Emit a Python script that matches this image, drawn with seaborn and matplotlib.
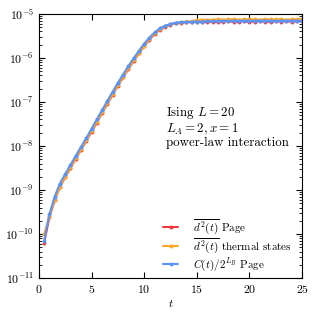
import numpy as np
import pandas as pd
import seaborn as sns
from matplotlib import pyplot as plt

t = np.arange(1, 51) * 0.5

d2_page = [6.3e-11, 2.4e-10, 5.8e-10, 1.18e-9, 1.95e-9, 3.15e-9, 5.1e-9, 8.2e-9, 1.3e-8, 2.1e-8,
           3.4e-8, 5.6e-8, 9.0e-8, 1.45e-7, 2.35e-7, 3.6e-7, 5.6e-7, 8.5e-7, 1.27e-6, 1.85e-6,
           2.6e-6, 3.5e-6, 4.4e-6, 5.1e-6, 5.7e-6, 6.1e-6, 6.3e-6, 6.4e-6, 6.5e-6, 6.6e-6,
           6.6e-6, 6.5e-6, 6.7e-6, 6.6e-6, 6.7e-6, 6.8e-6, 6.6e-6, 6.7e-6, 6.8e-6, 6.6e-6,
           6.7e-6, 6.8e-6, 6.7e-6, 6.6e-6, 6.8e-6, 6.7e-6, 6.8e-6, 6.7e-6, 6.8e-6, 6.8e-6]
d2_thermal = [1.0e-10, 2.5e-10, 6.0e-10, 1.2e-9, 2.0e-9, 3.25e-9, 5.3e-9, 8.5e-9, 1.35e-8, 2.2e-8,
              3.55e-8, 5.8e-8, 9.3e-8, 1.5e-7, 2.4e-7, 3.75e-7, 5.8e-7, 8.8e-7, 1.3e-6, 1.9e-6,
              2.7e-6, 3.6e-6, 4.5e-6, 5.2e-6, 5.8e-6, 6.2e-6, 6.5e-6, 6.7e-6, 6.8e-6, 7.2e-6,
              7.4e-6, 7.3e-6, 7.4e-6, 7.5e-6, 7.4e-6, 7.5e-6, 7.6e-6, 7.4e-6, 7.5e-6, 7.6e-6,
              7.5e-6, 7.4e-6, 7.6e-6, 7.5e-6, 7.5e-6, 7.6e-6, 7.4e-6, 7.5e-6, 7.6e-6, 7.7e-6]
c_page = [6.9e-11, 2.8e-10, 7.1e-10, 1.4e-9, 2.3e-9, 3.7e-9, 6.0e-9, 9.5e-9, 1.5e-8, 2.45e-8,
          4.0e-8, 6.5e-8, 1.05e-7, 1.7e-7, 2.7e-7, 4.2e-7, 6.5e-7, 9.8e-7, 1.45e-6, 2.1e-6,
          2.9e-6, 3.8e-6, 4.7e-6, 5.4e-6, 5.9e-6, 6.3e-6, 6.5e-6, 6.6e-6, 6.6e-6, 6.7e-6,
          6.7e-6, 6.8e-6, 6.8e-6, 6.9e-6, 6.9e-6, 6.9e-6, 7.0e-6, 6.9e-6, 7.0e-6, 7.0e-6,
          6.9e-6, 7.0e-6, 7.0e-6, 7.0e-6, 6.9e-6, 7.0e-6, 7.0e-6, 7.0e-6, 7.0e-6, 7.0e-6]

labels = [r'$\overline{d^2(t)}$ Page', r'$\overline{d^2(t)}$ thermal states', r'$C(t)/2^{L_B}$ Page']
colors = ['#f23a3a', '#ffa726', '#5b93f5']

df = pd.DataFrame({
    't': np.concatenate([t, t, t]),
    'val': np.concatenate([d2_page, d2_thermal, c_page]),
    'series': np.repeat(labels, len(t)),
})

sns.set_style('ticks')
plt.rcParams['font.family'] = 'serif'
plt.rcParams['font.serif'] = ['cmr10', 'DejaVu Serif']
plt.rcParams['mathtext.fontset'] = 'cm'
plt.rcParams['axes.formatter.use_mathtext'] = True
plt.rcParams['font.size'] = 8.5
plt.rcParams['text.color'] = 'black'
plt.rcParams['axes.labelcolor'] = 'black'
plt.rcParams['xtick.color'] = 'black'
plt.rcParams['ytick.color'] = 'black'
plt.rcParams['axes.edgecolor'] = 'black'

fig = plt.figure(figsize=(3.16, 3.16), dpi=100)
ax = fig.add_axes([0.123, 0.12, 0.833, 0.836])
sns.lineplot(data=df, x='t', y='val', hue='series', palette=colors, marker='o',
             markersize=2.8, markeredgewidth=0, linewidth=1.5, ax=ax)
ax.set_yscale('log')
ax.set_xlim(0, 25)
ax.set_ylim(1e-11, 1e-5)
ax.set_xticks([0, 5, 10, 15, 20, 25])
ax.set_xlabel(r'$t$', labelpad=2)
ax.set_ylabel('')
ax.tick_params(which='both', direction='in', top=True, right=True, labelsize=8.5)
ax.tick_params(which='major', length=4)
ax.tick_params(which='minor', length=2)
for s in ax.spines.values():
    s.set_linewidth(0.8)

ax.text(0.483, 0.655, 'Ising $L=20$\n$L_A=2, x=1$\npower-law interaction',
        transform=ax.transAxes, va='top', ha='left', fontsize=9.3, linespacing=1.05)

ax.legend(loc='lower right', bbox_to_anchor=(0.989, -0.012), frameon=False, fontsize=8,
          handlelength=1.35, handletextpad=1.3, borderaxespad=0.3, labelspacing=0.1, title=None)

fig.savefig('out.png', dpi=100)
